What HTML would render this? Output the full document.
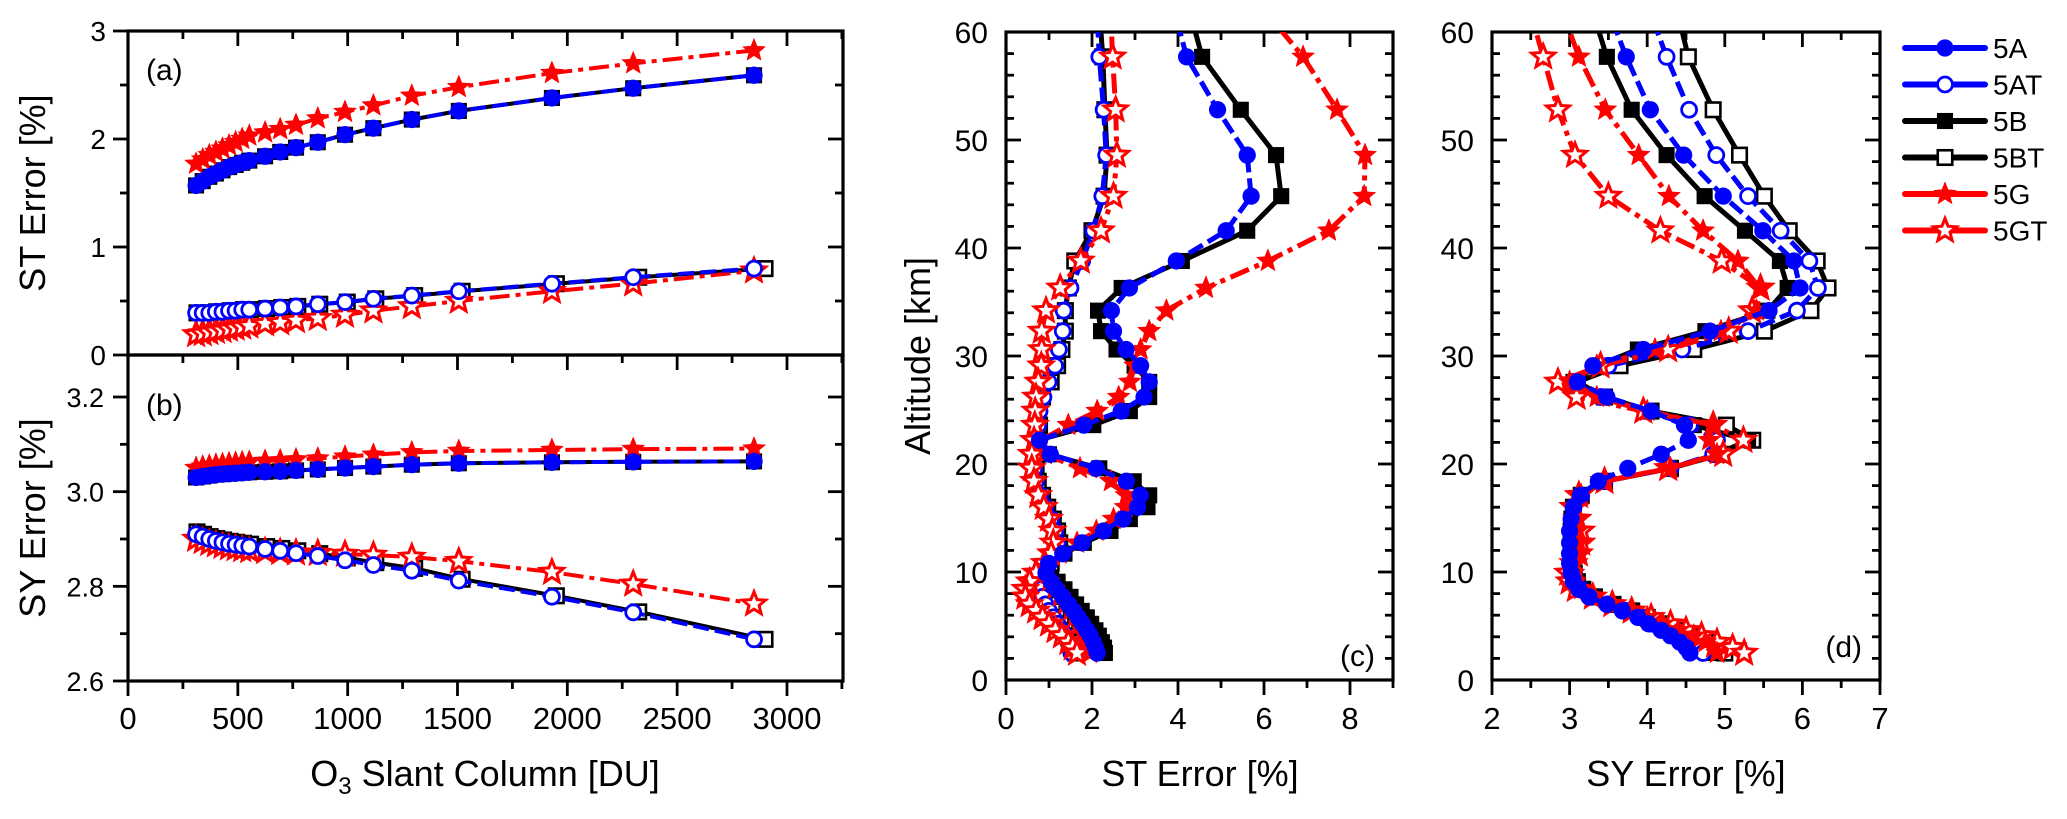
<!DOCTYPE html>
<html><head><meta charset="utf-8"><title>ST and SY error plots</title>
<style>
html,body{margin:0;padding:0;background:#fff;}
svg{display:block;font-family:"Liberation Sans",Arial,sans-serif;}
</style></head>
<body>
<svg id="fig" width="2067" height="819" viewBox="0 0 2067 819" xmlns="http://www.w3.org/2000/svg">
<defs>
<clipPath id="clipA"><rect x="128" y="31" width="715" height="324"/></clipPath>
<clipPath id="clipB"><rect x="128" y="355" width="715" height="326"/></clipPath>
<clipPath id="clipC"><rect x="1006" y="32" width="387" height="648"/></clipPath>
<clipPath id="clipD"><rect x="1492" y="32" width="388" height="648"/></clipPath>
</defs>
</svg>
<script>
// ---------- Panel (a)/(b) data ----------
const slantX = [310,340,370,400,430,460,490,520,552,624,693,765,864,988,1117,1292,1506,1930,2300,2850];
const slantXBT = [314,344,374,404,435,465,495,526,558,631,700,773,873,998,1128,1305,1521,1950,2325,2900];
const stA  = [1.57,1.61,1.65,1.68,1.71,1.74,1.76,1.78,1.80,1.84,1.88,1.92,1.97,2.04,2.10,2.18,2.26,2.38,2.47,2.59];
const stB  = [1.57,1.61,1.65,1.68,1.71,1.74,1.76,1.78,1.80,1.84,1.88,1.92,1.97,2.04,2.10,2.18,2.26,2.38,2.47,2.59];
const stG  = [1.77,1.81,1.85,1.88,1.91,1.94,1.97,2.00,2.03,2.06,2.09,2.13,2.19,2.25,2.31,2.40,2.48,2.61,2.70,2.82];
const stAT = [0.39,0.39,0.39,0.40,0.40,0.41,0.41,0.42,0.42,0.43,0.44,0.45,0.47,0.49,0.52,0.55,0.59,0.66,0.72,0.80];
const stBT = [0.39,0.39,0.39,0.40,0.40,0.41,0.41,0.42,0.42,0.43,0.44,0.45,0.47,0.49,0.52,0.55,0.59,0.66,0.72,0.80];
const stGT = [0.19,0.20,0.21,0.22,0.23,0.24,0.25,0.26,0.27,0.29,0.30,0.32,0.34,0.37,0.41,0.45,0.50,0.59,0.66,0.78];
const syA  = [3.030,3.032,3.034,3.036,3.037,3.038,3.039,3.040,3.041,3.042,3.043,3.045,3.047,3.050,3.053,3.057,3.060,3.062,3.063,3.064];
const syB  = [3.030,3.032,3.034,3.036,3.037,3.038,3.039,3.040,3.041,3.042,3.043,3.045,3.047,3.050,3.053,3.057,3.060,3.062,3.063,3.064];
const syG  = [3.050,3.053,3.055,3.057,3.058,3.060,3.061,3.062,3.063,3.065,3.066,3.068,3.070,3.074,3.078,3.083,3.086,3.088,3.090,3.091];
const syAT = [2.910,2.905,2.900,2.896,2.893,2.890,2.888,2.886,2.884,2.879,2.875,2.870,2.864,2.855,2.845,2.833,2.812,2.778,2.745,2.688];
const syBT = [2.915,2.910,2.905,2.901,2.898,2.895,2.893,2.891,2.889,2.884,2.880,2.875,2.869,2.860,2.850,2.838,2.815,2.780,2.746,2.688];
const syGT = [2.900,2.895,2.891,2.888,2.885,2.882,2.880,2.878,2.876,2.874,2.872,2.871,2.870,2.868,2.866,2.862,2.853,2.830,2.805,2.763];
const slantTicks = [0,500,1000,1500,2000,2500,3000];
const stTicks = [0,1,2,3];
const syTicks = [2.6,2.8,3.0,3.2];
// ---------- Panel (c)/(d) data ----------
const altitude = [63.0,57.7,52.8,48.6,44.8,41.6,38.8,36.3,34.2,32.3,30.6,29.1,27.6,26.2,24.9,23.6,22.2,20.9,19.6,18.4,17.1,16.0,14.9,13.8,12.7,11.7,10.8,9.9,9.1,8.4,7.7,7.0,6.4,5.8,5.2,4.6,4.1,3.5,3.0,2.5];
const profST_A  = [3.85,4.20,4.92,5.61,5.70,5.12,3.96,2.87,2.45,2.50,2.79,3.13,3.33,3.21,2.68,1.81,0.78,1.03,2.10,2.80,3.12,3.06,2.72,2.27,1.77,1.32,0.99,0.93,1.05,1.18,1.32,1.45,1.57,1.68,1.78,1.88,1.96,2.03,2.08,2.12];
const profST_B  = [4.20,4.56,5.46,6.28,6.40,5.61,4.09,2.69,2.14,2.21,2.57,2.99,3.33,3.33,2.88,2.03,0.74,1.00,2.17,2.97,3.33,3.29,2.88,2.43,1.81,1.36,1.00,1.05,1.20,1.36,1.50,1.63,1.76,1.88,1.98,2.08,2.16,2.23,2.28,2.30];
const profST_G  = [5.80,6.91,7.70,8.35,8.33,7.51,6.09,4.65,3.73,3.33,3.13,3.00,2.88,2.62,2.12,1.45,0.82,0.90,1.72,2.44,2.80,2.78,2.50,2.10,1.65,1.25,0.95,0.85,1.00,1.12,1.25,1.38,1.50,1.60,1.70,1.78,1.85,1.90,1.93,1.95];
const profST_AT = [2.10,2.17,2.27,2.33,2.24,2.03,1.77,1.50,1.34,1.32,1.23,1.14,0.99,0.87,0.78,0.75,0.72,0.68,0.66,0.70,0.80,0.92,1.05,1.15,1.20,1.15,1.00,0.85,0.80,0.80,0.85,0.92,1.00,1.10,1.20,1.30,1.38,1.45,1.50,1.52];
const profST_BT = [2.15,2.25,2.30,2.35,2.28,2.00,1.60,1.45,1.38,1.38,1.30,1.20,1.05,0.85,0.75,0.78,0.75,0.72,0.70,0.75,0.85,0.97,1.10,1.20,1.25,1.20,1.05,0.92,0.87,0.88,0.92,1.00,1.08,1.18,1.28,1.38,1.46,1.53,1.58,1.62];
const profST_GT = [2.42,2.48,2.55,2.58,2.50,2.21,1.74,1.26,0.93,0.83,0.83,0.82,0.75,0.70,0.68,0.67,0.65,0.60,0.60,0.65,0.75,0.88,1.00,1.08,1.10,1.05,0.90,0.70,0.55,0.45,0.45,0.55,0.70,0.85,1.00,1.15,1.30,1.45,1.55,1.65];
const profSY_A  = [3.45,3.73,4.04,4.47,4.98,5.49,5.89,5.97,5.57,4.81,3.95,3.30,3.10,3.48,4.05,4.48,4.53,4.18,3.75,3.37,3.14,3.05,3.02,3.00,3.00,3.00,3.00,3.02,3.05,3.12,3.25,3.48,3.68,3.88,4.02,4.18,4.30,4.42,4.50,4.55];
const profSY_B  = [3.25,3.48,3.80,4.25,4.74,5.26,5.71,5.81,5.55,4.75,3.88,3.35,3.05,3.45,4.05,4.60,5.30,4.90,4.30,3.45,3.15,3.05,3.03,3.02,3.02,3.02,3.03,3.05,3.08,3.15,3.30,3.55,3.78,3.98,4.15,4.32,4.48,4.62,4.72,4.80];
const profSY_G  = [2.85,3.12,3.46,3.89,4.28,4.72,5.17,5.45,5.41,4.95,4.10,3.35,3.00,3.35,4.00,4.85,4.80,4.90,4.30,3.45,3.15,3.08,3.08,3.10,3.12,3.10,3.07,3.05,3.07,3.15,3.30,3.55,3.78,4.00,4.20,4.40,4.60,4.75,4.85,4.90];
const profSY_AT = [3.98,4.25,4.54,4.89,5.30,5.72,6.09,6.20,5.93,5.30,4.45,3.50,3.05,3.40,4.00,4.55,4.90,4.85,4.30,3.45,3.15,3.05,3.03,3.02,3.02,3.02,3.03,3.05,3.08,3.14,3.28,3.50,3.72,3.92,4.08,4.25,4.40,4.55,4.65,4.72];
const profSY_BT = [4.35,4.53,4.85,5.19,5.51,5.83,6.19,6.33,6.11,5.51,4.60,3.65,3.10,3.45,4.05,5.02,5.36,4.95,4.30,3.45,3.15,3.05,3.03,3.02,3.02,3.02,3.04,3.06,3.10,3.17,3.32,3.56,3.80,4.00,4.18,4.38,4.55,4.75,4.90,5.00];
const profSY_GT = [2.45,2.66,2.85,3.07,3.50,4.17,4.96,5.46,5.35,5.05,4.27,3.40,2.85,3.09,3.95,4.85,5.24,4.98,4.27,3.45,3.12,3.05,3.10,3.15,3.15,3.12,3.05,2.98,3.00,3.08,3.30,3.55,3.80,4.05,4.30,4.50,4.70,4.90,5.10,5.25];
const altTicks = [0,10,20,30,40,50,60];
const stProfTicks = [0,2,4,6,8];
const syProfTicks = [2,3,4,5,6,7];
const legendLabels = ["5A","5AT","5B","5BT","5G","5GT"];

const NS = "http://www.w3.org/2000/svg";
const svg = document.getElementById('fig');
function mk(tag, attrs, parent){
  const e = document.createElementNS(NS, tag);
  for (const k in attrs) e.setAttribute(k, attrs[k]);
  (parent||svg).appendChild(e);
  return e;
}
function lin(d0,d1,r0,r1){ return v => r0 + (v-d0)*(r1-r0)/(d1-d0); }

const STY = {
  A:  {color:'#0000ff', shape:'circle', filled:true,  dash:'16 6'},
  AT: {color:'#0000ff', shape:'circle', filled:false, dash:'16 6'},
  B:  {color:'#000000', shape:'square', filled:true,  dash:''},
  BT: {color:'#000000', shape:'square', filled:false, dash:''},
  G:  {color:'#ff0000', shape:'star',   filled:true,  dash:'20 6 5 6'},
  GT: {color:'#ff0000', shape:'star',   filled:false, dash:'20 6 5 6'}
};
function starPath(cx,cy,R,r){
  let d='';
  for(let i=0;i<10;i++){
    const a = -Math.PI/2 + i*Math.PI/5;
    const rr = i%2===0?R:r;
    d += (i===0?'M':'L') + (cx+rr*Math.cos(a)).toFixed(1)+','+(cy+rr*Math.sin(a)).toFixed(1);
  }
  return d+'Z';
}
function marker(g, key, x, y, s){
  const st = STY[key]; s = s||1.15;
  let e;
  if (st.shape==='circle'){
    e = mk('circle',{cx:x,cy:y,r:(st.filled?7.5:6.5)*s,fill:st.filled?st.color:'#fff',stroke:st.color,'stroke-width':st.filled?0:2.8},g);
  } else if (st.shape==='square'){
    const h=(st.filled?7:6.3)*s;
    e = mk('rect',{x:x-h,y:y-h,width:2*h,height:2*h,fill:st.filled?st.color:'#fff',stroke:st.color,'stroke-width':st.filled?0:2.6},g);
  } else {
    e = mk('path',{d:starPath(x,y,10.5*s,4.6*s),fill:st.filled?st.color:'#fff',stroke:st.color,'stroke-width':st.filled?0.5:3,'stroke-linejoin':'miter'},g);
  }
  
  
  return e;
}
function series(panel, key, xs, ys, sx, sy, clip, lw){
  const g = mk('g',{'clip-path':'url(#'+clip+')'});
  
  
  const pts = xs.map((v,i)=>sx(v).toFixed(1)+','+sy(ys[i]).toFixed(1)).join(' ');
  const st = STY[key];
  const pl = mk('polyline',{points:pts,fill:'none',stroke:st.color,'stroke-width':lw,'stroke-dasharray':st.dash,'stroke-linejoin':'round'},g);
  
  
  xs.forEach((v,i)=>marker(g,key,sx(v),sy(ys[i])));
}
function text(str, x, y, size, anchor, name, extra){
  const t = mk('text',Object.assign({x:x,y:y,'font-size':size,'text-anchor':anchor||'middle',fill:'#000'},extra||{}));
  t.textContent = str;
  
  
  return t;
}
function L(x1,y1,x2,y2,w,name){
  const l = mk('line',{x1:x1,y1:y1,x2:x2,y2:y2,stroke:'#000','stroke-width':w||2.6});
  if(name){   }
  return l;
}
function frame(x0,y0,x1,y1,name){
  const r = mk('rect',{x:x0,y:y0,width:x1-x0,height:y1-y0,fill:'none',stroke:'#000','stroke-width':3.2});
  
  
}

// ---------- scales ----------
const sxAB = lin(0,3255,128,843);
const syA_ = lin(0,3,355,31);
const syB_ = lin(2.6,3.2,681,397);
const sxC = lin(0,9,1006,1393);
const sxD = lin(2,7,1492,1880);
const syCD = lin(0,60,680,32);

// ---------- Panel a ----------
frame(128,31,843,355,'panel-a-frame');
for(let v=0; v<=3; v+=0.5){ const y=syA_(v); const maj=Math.abs(v-Math.round(v))<1e-6;
  L(128-(maj?15:8),y,128,y,2.8); L(843-(maj?15:8),y,843,y,2.8); }
for(let v=0; v<=3250; v+=250){ const x=sxAB(v); const maj=v%500===0;
  L(x,31,x,31+(maj?15:8),2.8); L(x,355,x,355+(maj?15:8),2.8); }
stTicks.forEach(v=>text(String(v),106,syA_(v)+10,28,'end','st-y-tick-label'));
text('(a)',146,80,30,'start','panel-a-label');
series('a','B',slantX,stB,sxAB,syA_,'clipA',4);
series('a','BT',slantXBT,stBT,sxAB,syA_,'clipA',4);
series('a','G',slantX,stG,sxAB,syA_,'clipA',4);
series('a','GT',slantX,stGT,sxAB,syA_,'clipA',4);
series('a','A',slantX,stA,sxAB,syA_,'clipA',4);
series('a','AT',slantX,stAT,sxAB,syA_,'clipA',4);

// ---------- Panel b ----------
frame(128,355,843,681,'panel-b-frame');
for(let k=0;k<=6;k++){ const v=2.6+k*0.1; const y=syB_(v); const maj=k%2===0;
  L(128-(maj?15:8),y,128,y,2.8); L(843-(maj?15:8),y,843,y,2.8); }
for(let v=0; v<=3250; v+=250){ const x=sxAB(v); const maj=v%500===0;
  L(x,681,x,681+(maj?15:8),2.8); }
syTicks.forEach(v=>text(v.toFixed(1),104,syB_(v)+10,27,'end','sy-y-tick-label'));
slantTicks.forEach(v=>text(String(v),sxAB(v),729,31,'middle','slant-x-tick-label'));
text('(b)',146,415,30,'start','panel-b-label');
series('b','B',slantX,syB,sxAB,syB_,'clipB',4);
series('b','BT',slantXBT,syBT,sxAB,syB_,'clipB',4);
series('b','G',slantX,syG,sxAB,syB_,'clipB',4);
series('b','GT',slantX,syGT,sxAB,syB_,'clipB',4);
series('b','A',slantX,syA,sxAB,syB_,'clipB',4);
series('b','AT',slantX,syAT,sxAB,syB_,'clipB',4);

// axis titles a/b
text('ST Error [%]',0,0,36,'middle','st-error-y-title',{transform:'translate(45,193) rotate(-90)'});
text('SY Error [%]',0,0,36,'middle','sy-error-y-title',{transform:'translate(45,518) rotate(-90)'});
(function(){
  const t = text('',485,786,36,'middle','slant-column-x-title');
  t.innerHTML = 'O<tspan font-size="24" dy="8">3</tspan><tspan dy="-8"> Slant Column [DU]</tspan>';
})();

// ---------- Panel c ----------
frame(1006,32,1393,680,'panel-c-frame');
for(let v=0; v<=60; v+=2){ const y=syCD(v); const maj=v%10===0;
  L(1006,y,1006+(maj?15:8),y,2.8); L(1393-(maj?15:8),y,1393,y,2.8); }
for(let v=0; v<=9; v+=1){ const x=sxC(v); const maj=v%2===0;
  L(x,680,x,680+(maj?15:8),2.8); L(x,32,x,32+(maj?15:8),2.8); }
altTicks.forEach(v=>text(String(v),988,syCD(v)+11,30,'end','altitude-y-tick-label'));
stProfTicks.forEach(v=>text(String(v),sxC(v),729,31,'middle','st-x-tick-label'));
text('(c)',1375,666,30,'end','panel-c-label');
text('ST Error [%]',1200,786,36,'middle','st-error-x-title');
text('Altitude [km]',0,0,36,'middle','altitude-y-title',{transform:'translate(930,356) rotate(-90)'});
series('c','B',profST_B,altitude,sxC,syCD,'clipC',5);
series('c','BT',profST_BT,altitude,sxC,syCD,'clipC',5);
series('c','AT',profST_AT,altitude,sxC,syCD,'clipC',5);
series('c','G',profST_G,altitude,sxC,syCD,'clipC',5);
series('c','GT',profST_GT,altitude,sxC,syCD,'clipC',5);
series('c','A',profST_A,altitude,sxC,syCD,'clipC',5);

// ---------- Panel d ----------
frame(1492,32,1880,680,'panel-d-frame');
for(let v=0; v<=60; v+=2){ const y=syCD(v); const maj=v%10===0;
  L(1492,y,1492+(maj?15:8),y,2.8); L(1880-(maj?15:8),y,1880,y,2.8); }
for(let k=0; k<=10; k++){ const v=2+k*0.5; const x=sxD(v); const maj=k%2===0;
  L(x,680,x,680+(maj?15:8),2.8); L(x,32,x,32+(maj?15:8),2.8); }
altTicks.forEach(v=>text(String(v),1474,syCD(v)+11,30,'end','altitude-d-y-tick-label'));
syProfTicks.forEach(v=>text(String(v),sxD(v),729,31,'middle','sy-x-tick-label'));
text('(d)',1862,657,30,'end','panel-d-label');
text('SY Error [%]',1686,786,36,'middle','sy-error-x-title');
series('d','BT',profSY_BT,altitude,sxD,syCD,'clipD',5);
series('d','B',profSY_B,altitude,sxD,syCD,'clipD',5);
series('d','AT',profSY_AT,altitude,sxD,syCD,'clipD',5);
series('d','GT',profSY_GT,altitude,sxD,syCD,'clipD',5);
series('d','G',profSY_G,altitude,sxD,syCD,'clipD',5);
series('d','A',profSY_A,altitude,sxD,syCD,'clipD',5);

// ---------- Legend ----------
const lg = mk('g',{});


legendLabels.forEach((lab,i)=>{
  const key = lab.slice(1);
  const y = 48 + i*36.5;
  const g = mk('g',{},lg);
  
  
  mk('line',{x1:1905,y1:y,x2:1985,y2:y,stroke:STY[key].color,'stroke-width':6,'stroke-linecap':'round'},g);
  marker(g,key,1945,y);
  const t = mk('text',{x:1993,y:y+10,'font-size':28,fill:'#000'},g);
  t.textContent = lab;
  
  
});
</script>
</body></html>
